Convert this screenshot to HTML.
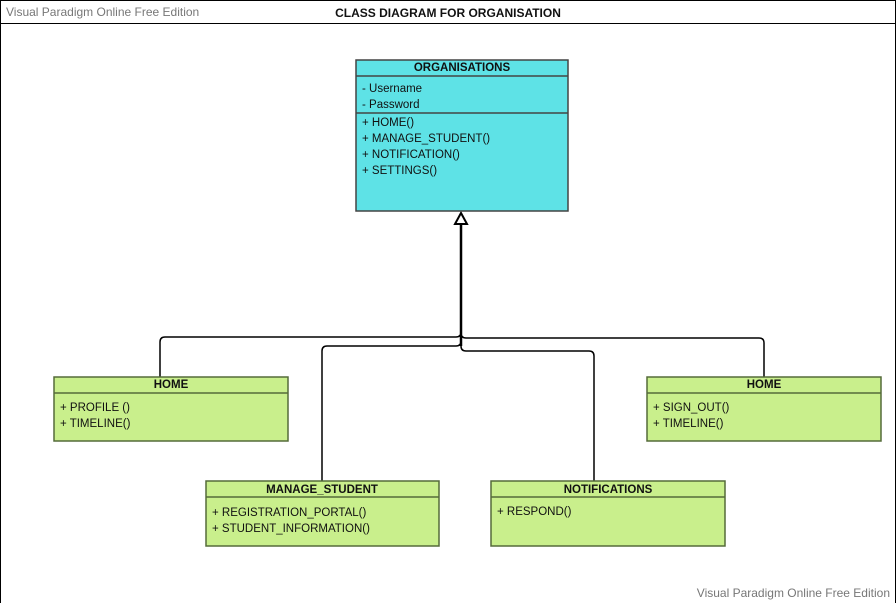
<!DOCTYPE html>
<html><head><style>
body{margin:0;width:896px;height:603px;overflow:hidden;background:#fff}
svg{display:block}
text{font-family:"Liberation Sans",Arial,sans-serif;font-size:11.5px;fill:#111}
.b{font-weight:bold}
.w{fill:#777;font-size:12px}
</style></head><body>
<svg width="896" height="603" viewBox="0 0 896 603">
<path d="M0.5 603 V0.5 H895.5 V603" fill="none" stroke="#000"/>
<line x1="0" y1="23.5" x2="896" y2="23.5" stroke="#000"/>
<text x="6" y="16" class="w">Visual Paradigm Online Free Edition</text>
<text x="448" y="17" class="b" text-anchor="middle" style="font-size:12px">CLASS DIAGRAM FOR ORGANISATION</text>
<text x="890" y="597" class="w" text-anchor="end">Visual Paradigm Online Free Edition</text>

<g fill="none" stroke="#000" stroke-width="1.5">
<path d="M160 377 V342 Q160 337 165 337 H456 Q461 337 461 332"/>
<path d="M322 481 V351 Q322 346 327 346 H456 Q461 346 461 341"/>
<path d="M594 481 V356 Q594 351 589 351 H466 Q461 351 461 346"/>
<path d="M764 377 V343 Q764 338 759 338 H466 Q461 338 461 333"/>
<line x1="461" y1="224" x2="461" y2="346" stroke-width="2.5"/>
<polygon points="461,213 455,224 467,224" fill="#fff" stroke-width="2"/>
</g>

<g stroke="#444" stroke-width="1.5">
<rect x="356" y="60" width="212" height="151" fill="#5ee2e6"/>
<line x1="356" y1="76" x2="568" y2="76"/>
<line x1="356" y1="113" x2="568" y2="113"/>
</g>
<text x="462" y="71" class="b" text-anchor="middle">ORGANISATIONS</text>
<text x="362" y="92">- Username</text>
<text x="362" y="108">- Password</text>
<text x="362" y="126">+ HOME()</text>
<text x="362" y="142">+ MANAGE_STUDENT()</text>
<text x="362" y="158">+ NOTIFICATION()</text>
<text x="362" y="174">+ SETTINGS()</text>

<g stroke="#556b3a" stroke-width="1.5" fill="#c9ef8c">
<rect x="54" y="377" width="234" height="64"/><line x1="54" y1="393" x2="288" y2="393"/>
<rect x="647" y="377" width="234" height="64"/><line x1="647" y1="393" x2="881" y2="393"/>
<rect x="206" y="481" width="233" height="65"/><line x1="206" y1="497" x2="439" y2="497"/>
<rect x="491" y="481" width="234" height="65"/><line x1="491" y1="497" x2="725" y2="497"/>
</g>
<text x="171" y="388" class="b" text-anchor="middle">HOME</text>
<text x="60" y="411">+ PROFILE ()</text>
<text x="60" y="427">+ TIMELINE()</text>
<text x="764" y="388" class="b" text-anchor="middle">HOME</text>
<text x="653" y="411">+ SIGN_OUT()</text>
<text x="653" y="427">+ TIMELINE()</text>
<text x="322" y="493" class="b" text-anchor="middle">MANAGE_STUDENT</text>
<text x="212" y="516">+ REGISTRATION_PORTAL()</text>
<text x="212" y="532">+ STUDENT_INFORMATION()</text>
<text x="608" y="493" class="b" text-anchor="middle">NOTIFICATIONS</text>
<text x="497" y="515">+ RESPOND()</text>
</svg>
</body></html>
